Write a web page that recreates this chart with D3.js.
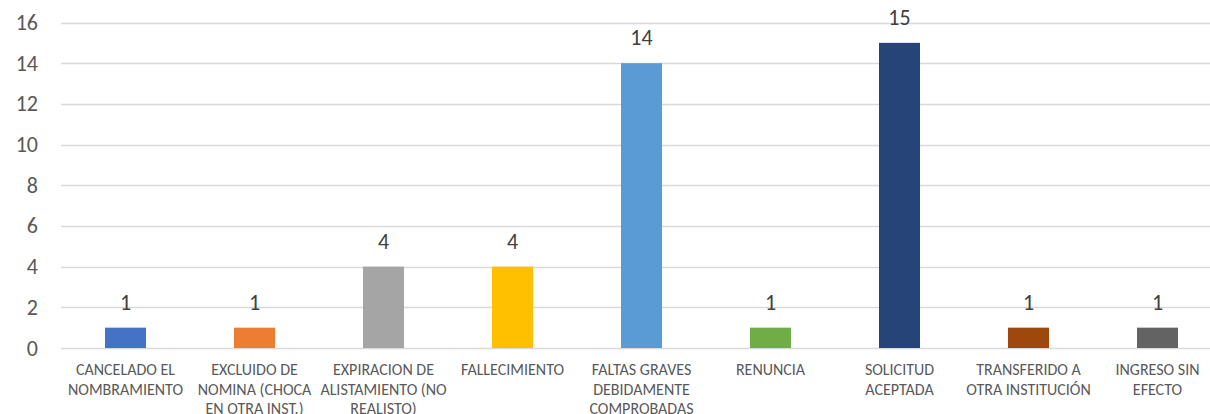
<!doctype html>
<html lang="en">

<head>
  <meta charset="utf-8">
  <title>Bar chart - D3</title>
  <style>
    body { margin: 0; background: #fff; }
    text { font-family: Carlito, Calibri, Lato, sans-serif; }
  </style>
</head>

<body>
  <svg width="1210" height="414"></svg>

  <script src="https://cdn.jsdelivr.net/npm/d3@7/dist/d3.min.js"></script>
  <script>
    var categories = [
      "CANCELADO EL\nNOMBRAMIENTO",
      "EXCLUIDO DE\nNOMINA (CHOCA\nEN OTRA INST.)",
      "EXPIRACION DE\nALISTAMIENTO (NO\nREALISTO)",
      "FALLECIMIENTO",
      "FALTAS GRAVES\nDEBIDAMENTE\nCOMPROBADAS",
      "RENUNCIA",
      "SOLICITUD\nACEPTADA",
      "TRANSFERIDO A\nOTRA INSTITUCIÓN",
      "INGRESO SIN\nEFECTO"
    ];
    var values = [1, 1, 4, 4, 14, 1, 15, 1, 1];
    var colors = ["#4472C4", "#ED7D31", "#A5A5A5", "#FFC000", "#5B9BD5", "#70AD47", "#264478", "#9E480E", "#636363"];
    var yTicks = [0, 2, 4, 6, 8, 10, 12, 14, 16];

    var svg = d3.select('svg');

    var x = d3.scaleBand()
      .domain(categories)
      .range([61, 1222])
      .paddingInner(0.682)
      .paddingOuter(0.341);
    var y = d3.scaleLinear()
      .domain([0, 16])
      .range([348, 22.5]);

    // gridlines
    svg.append('g').selectAll('line').data(yTicks).enter()
      .append('line')
      .attr('x1', 61)
      .attr('x2', 1210)
      .attr('y1', d => Math.round(y(d)) + 0.5)
      .attr('y2', d => Math.round(y(d)) + 0.5)
      .attr('stroke', '#d9d9d9')
      .attr('stroke-width', 1.3);

    // y tick labels
    svg.append('g').selectAll('text').data(yTicks).enter()
      .append('text')
      .text(d => d)
      .attr('x', 38)
      .attr('y', d => y(d) + 7.5)
      .attr('text-anchor', 'end')
      .attr('font-size', '22px')
      .attr('fill', '#595959');

    // bars
    svg.append('g').selectAll('rect').data(values).enter()
      .append('rect')
      .attr('x', (v, i) => x(categories[i]))
      .attr('width', x.bandwidth())
      .attr('y', v => y(v))
      .attr('height', v => y(0) - y(v))
      .attr('fill', (v, i) => colors[i]);

    // value labels
    svg.append('g').selectAll('text').data(values).enter()
      .append('text')
      .text(v => v)
      .attr('x', (v, i) => x(categories[i]) + x.bandwidth() / 2)
      .attr('y', v => y(v) - 18)
      .attr('text-anchor', 'middle')
      .attr('font-size', '22px')
      .attr('fill', '#404040');

    // category labels
    var cat = svg.append('g').selectAll('text').data(categories).enter()
      .append('text')
      .attr('text-anchor', 'middle')
      .attr('font-size', '16px')
      .attr('fill', '#595959');
    cat.each(function (c) {
      var t = d3.select(this);
      c.split('\n').forEach((line, j) => {
        t.append('tspan')
          .attr('x', x(c) + x.bandwidth() / 2)
          .attr('y', 375 + j * 19.7)
          .text(line);
      });
    });
  </script>
</body>

</html>
